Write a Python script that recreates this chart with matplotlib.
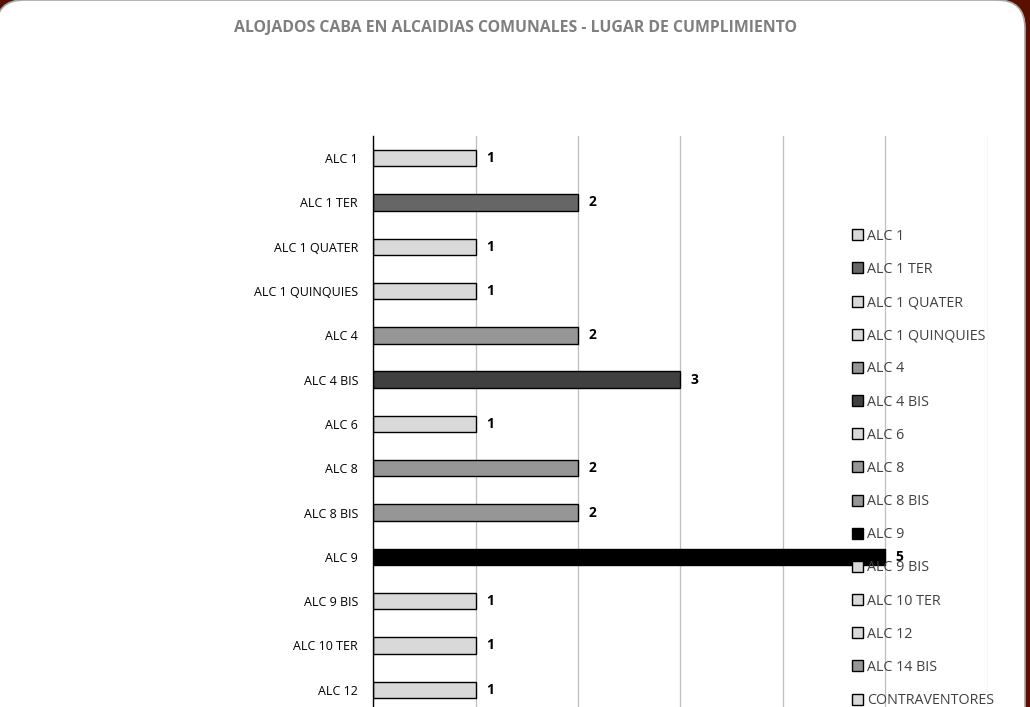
import matplotlib.pyplot as plt
from matplotlib.patches import FancyBboxPatch
from matplotlib.transforms import IdentityTransform

plt.rcParams['font.family'] = ['Open Sans', 'DejaVu Sans']

categories = ['ALC 1', 'ALC 1 TER', 'ALC 1 QUATER', 'ALC 1 QUINQUIES', 'ALC 4',
              'ALC 4 BIS', 'ALC 6', 'ALC 8', 'ALC 8 BIS', 'ALC 9', 'ALC 9 BIS',
              'ALC 10 TER', 'ALC 12', 'ALC 14 BIS', 'CONTRAVENTORES']
values = [1, 2, 1, 1, 2, 3, 1, 2, 2, 5, 1, 1, 1, 2, 1]
colors = ['#D9D9D9', '#666666', '#D9D9D9', '#D9D9D9', '#969696',
          '#404040', '#D9D9D9', '#969696', '#969696', '#000000', '#D9D9D9',
          '#D9D9D9', '#D9D9D9', '#969696', '#D9D9D9']

W, H = 1030, 707
fig = plt.figure(figsize=(W / 100, H / 100), dpi=100)
fig.patch.set_facecolor('#5A1000')

# white chart frame with rounded corners (pixel coords)
frame = FancyBboxPatch((-4, -60), 1029, 767, boxstyle='round,pad=0,rounding_size=28',
                       transform=IdentityTransform(), facecolor='white',
                       edgecolor='#A6A6A6', linewidth=1.2, zorder=-10)
fig.patches.append(frame)

fig.text(0.5, 1 - 28 / H, 'ALOJADOS CABA EN ALCAIDIAS COMUNALES - LUGAR DE CUMPLIMIENTO',
         ha='center', va='center', fontsize=11.4, fontweight='bold', color='#7F7F7F')

# the chart is cut at the bottom: axes reaches the lower figure edge,
# the last rows fall outside the visible range
row = 44.3
top_px = 136
ax = fig.add_axes([373 / W, 0, 615 / W, (H - top_px) / H])
ax.set_facecolor('none')

pos = list(range(len(categories)))
for i, (c, v, col) in enumerate(zip(categories, values, colors)):
    ax.barh(i, v, height=0.37, color=col, edgecolor='black', linewidth=1,
            label=c, zorder=3)
    ax.text(v + 0.1, i, str(v), va='center', ha='left', fontsize=10,
            fontweight='bold', color='black', zorder=4, clip_on=True)

ax.set_yticks(pos)
ax.set_yticklabels(categories, fontsize=9, color='black')
ax.set_xticks(range(7))
ax.set_xticklabels([])
ax.set_xlim(0, 6)
ax.set_ylim(-0.5 + (H - top_px) / row, -0.5)
ax.tick_params(axis='both', length=0, pad=10.8)
ax.grid(axis='x', color='#BFBFBF', linewidth=0.9, zorder=0)
for s in ['top', 'right', 'bottom']:
    ax.spines[s].set_visible(False)
ax.spines['left'].set_color('black')
ax.spines['left'].set_linewidth(1)
ax.spines['left'].set_zorder(5)

leg = fig.legend(loc='upper left', bbox_to_anchor=(846 / W, 1 - 223 / H),
                 frameon=False, fontsize=10.3, handlelength=0.8, handleheight=0.8,
                 handletextpad=0.3, labelspacing=1.27, borderaxespad=0)
for t in leg.get_texts():
    t.set_color('#404040')

fig.savefig('out.png', dpi=100, facecolor=fig.get_facecolor())
